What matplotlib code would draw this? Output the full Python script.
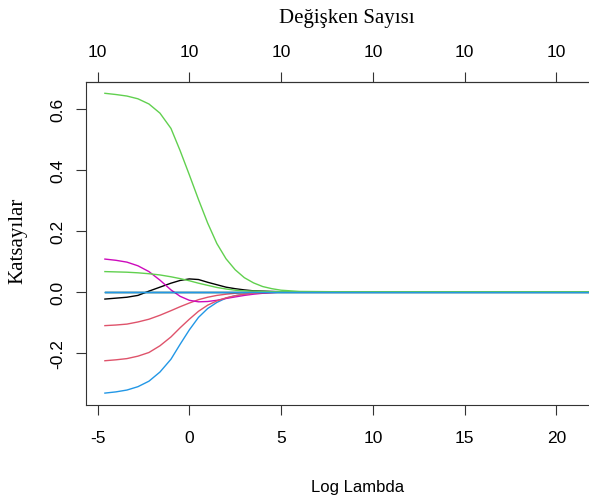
import numpy as np
import matplotlib
matplotlib.use('Agg')
import matplotlib.pyplot as plt

# log(lambda) grid of the ridge path
log_lambda = [-4.6, -4.0, -3.4, -2.8, -2.2, -1.6, -1.0, -0.5, 0.0, 0.5, 1.0, 1.5,
              2.0, 2.5, 3.0, 3.5, 4.0, 4.5, 5.0, 5.5, 6.0, 8.0, 12.0, 16.0, 22.0]

# coefficient paths (one list per variable)
coef_v1 = [-0.024, -0.021, -0.018, -0.012, 0.002, 0.015, 0.028, 0.037, 0.042, 0.040, 0.031, 0.023,
           0.015, 0.010, 0.006, 0.003, 0.002, 0.001, 0.0, 0.0, 0.0, 0.0, 0.0, 0.0, 0.0]
coef_v2 = [-0.111, -0.109, -0.106, -0.099, -0.090, -0.077, -0.062, -0.049, -0.037, -0.026, -0.018, -0.012,
           -0.008, -0.005, -0.003, -0.002, -0.001, 0.0, 0.0, 0.0, 0.0, 0.0, 0.0, 0.0, 0.0]
coef_v3 = [0.650, 0.646, 0.641, 0.632, 0.615, 0.585, 0.535, 0.462, 0.383, 0.302, 0.225, 0.158,
           0.108, 0.072, 0.046, 0.029, 0.017, 0.010, 0.005, 0.003, 0.001, 0.0, 0.0, 0.0, 0.0]
coef_v4 = [-0.332, -0.328, -0.322, -0.311, -0.293, -0.263, -0.221, -0.172, -0.125, -0.084, -0.055, -0.035,
           -0.021, -0.013, -0.008, -0.005, -0.003, -0.001, 0.0, 0.0, 0.0, 0.0, 0.0, 0.0, 0.0]
coef_v5 = [0.0] * 25
coef_v6 = [0.107, 0.103, 0.097, 0.085, 0.066, 0.038, 0.006, -0.015, -0.028, -0.033, -0.032, -0.028,
           -0.022, -0.017, -0.012, -0.008, -0.005, -0.003, -0.001, -0.001, 0.0, 0.0, 0.0, 0.0, 0.0]
coef_v7 = [0.0] * 25
coef_v8 = [-0.226, -0.223, -0.219, -0.211, -0.199, -0.177, -0.148, -0.118, -0.090, -0.064, -0.044, -0.030,
           -0.020, -0.013, -0.008, -0.005, -0.003, -0.002, -0.001, 0.0, 0.0, 0.0, 0.0, 0.0, 0.0]
coef_v9 = [0.066, 0.065, 0.064, 0.062, 0.059, 0.055, 0.049, 0.043, 0.036, 0.028, 0.021, 0.014,
           0.009, 0.005, 0.003, 0.002, 0.001, 0.0, 0.0, 0.0, 0.0, 0.0, 0.0, 0.0, 0.0]
coef_v10 = [0.0] * 25

paths = [coef_v1, coef_v2, coef_v3, coef_v4, coef_v5, coef_v6, coef_v7, coef_v8, coef_v9, coef_v10]
# R default palette, recycled like matplot does
palette = ['black', '#DF536B', '#61D04F', '#2297E6', '#28E2E5', '#CD0BBC']

x_ticks = [-5, 0, 5, 10, 15, 20]
df_labels = ['10', '10', '10', '10', '10', '10']
y_ticks = [-0.2, 0.0, 0.2, 0.4, 0.6]
y_labels = ['-0.2', '0.0', '0.2', '0.4', '0.6']

W, H = 589, 502
fig = plt.figure(figsize=(W / 100, H / 100), dpi=100)
left, right, top, bottom = 86, 620, 82.7, 405.7
ax = fig.add_axes([left / W, (H - bottom) / H, (right - left) / W, (bottom - top) / H])

for i, p in enumerate(paths):
    ax.plot(log_lambda, p, color=palette[i % 6], lw=1.0)

ax.set_xlim(-5.63, 23.47)
ax.set_ylim(-0.370, 0.688)

tick_font = {'family': 'Liberation Sans', 'size': 12.5}
ax.set_xticks(x_ticks)
ax.set_xticklabels([str(t) for t in x_ticks], fontdict=tick_font)
ax.set_yticks(y_ticks)
ax.set_yticklabels(y_labels, fontdict=tick_font, rotation=90, va='center')
ax.tick_params(axis='x', length=7.2, width=0.8, pad=11, color='#333333')
ax.tick_params(axis='y', length=7.2, width=0.8, pad=8, color='#333333')
for s in ax.spines.values():
    s.set_linewidth(0.8)
    s.set_color('#333333')
ax.spines['right'].set_visible(False)

secax = ax.secondary_xaxis('top')
secax.set_xticks(x_ticks)
secax.set_xticklabels(df_labels, fontdict=tick_font)
secax.tick_params(length=7.2, width=0.8, pad=9, color='#333333')
secax.spines['top'].set_linewidth(0.8)
secax.spines['top'].set_color('#333333')

fig.text(346.7 / W, 1 - 22.7 / H, 'Değişken Sayısı', family='Liberation Serif',
         size=15, ha='center', va='baseline')
fig.text(358 / W, 1 - 491.7 / H, 'Log Lambda', family='Liberation Sans',
         size=12, ha='center', va='baseline')
fig.text(18 / W, 1 - 241 / H, 'Katsayılar', family='Liberation Serif',
         size=15, ha='center', va='center', rotation=90)

fig.savefig('out.png', dpi=100)
